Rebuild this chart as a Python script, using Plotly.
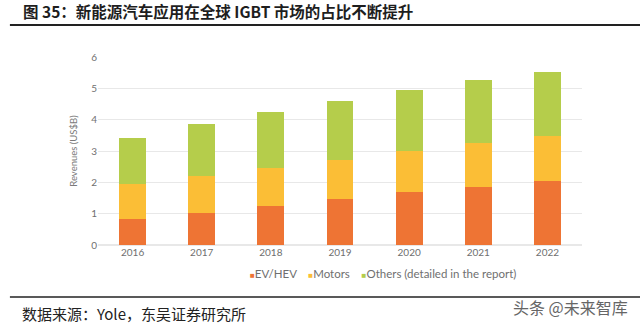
import plotly.graph_objects as go

years = ["2016", "2017", "2018", "2019", "2020", "2021", "2022"]
ev_hev = [0.84, 1.03, 1.26, 1.46, 1.68, 1.86, 2.05]
motors = [1.11, 1.17, 1.21, 1.26, 1.32, 1.41, 1.43]
others = [1.48, 1.66, 1.77, 1.88, 1.95, 2.00, 2.05]
y_ticks = [0, 1, 2, 3, 4, 5, 6]

series_names = ["EV/HEV", "Motors", "Others (detailed in the report)"]
series_values = [ev_hev, motors, others]
series_colors = ["#EE7434", "#FBBE36", "#B5CD4B"]

fig = go.Figure()
for name, vals, color in zip(series_names, series_values, series_colors):
    fig.add_trace(go.Bar(x=years, y=vals, name=name, showlegend=False,
                         marker=dict(color=color, line=dict(width=0))))

axis_font = dict(family="Lato, Open Sans, sans-serif", size=10, color="#6f6f6f")

fig.update_layout(
    barmode="stack",
    bargap=0.61,
    width=640,
    height=329,
    margin=dict(l=98, r=58, t=57, b=84),
    paper_bgcolor="white",
    plot_bgcolor="white",
    showlegend=False,
    xaxis=dict(
        tickfont=axis_font,
        showgrid=False,
        showline=False,
        ticks="",
    ),
    yaxis=dict(
        range=[0, 6],
        tickvals=y_ticks,
        tickfont=axis_font,
        showgrid=True,
        gridcolor="#e8e8e8",
        gridwidth=1,
        zeroline=True,
        zerolinecolor="#e8e8e8",
        ticks="",
        title=dict(text="Revenues (US$B)",
                   font=dict(family="Lato, Open Sans, sans-serif", size=9.5, color="#7a7a7a"),
                   standoff=11),
    ),
)

# legend drawn as text with small coloured squares
legend_parts = []
for name, color in zip(series_names, series_colors):
    legend_parts.append(
        f'<span style="font-size:8px;color:{color}">■</span>'
        f'<span style="color:#6f6f6f">{name}</span>'
    )
fig.add_annotation(
    text="&nbsp;&nbsp;&nbsp;&nbsp;".join(legend_parts),
    xref="paper", yref="paper", x=0, xanchor="left", y=0, yanchor="middle",
    xshift=150, yshift=-28,
    showarrow=False,
    font=dict(family="Lato, Open Sans, sans-serif", size=11.5, color="#6f6f6f"),
)

fig.add_annotation(
    text="<b>图 35：新能源汽车应用在全球 IGBT 市场的占比不断提升</b>",
    xref="paper", yref="paper", x=0, xanchor="left", y=1, yanchor="middle",
    xshift=-77, yshift=46,
    showarrow=False,
    font=dict(family="Noto Sans CJK SC", size=15.5, color="#1e1e1e"),
)
fig.add_annotation(
    text="数据来源：Yole，东吴证券研究所",
    xref="paper", yref="paper", x=0, xanchor="left", y=0, yanchor="middle",
    xshift=-78, yshift=-68,
    showarrow=False,
    font=dict(family="Noto Sans CJK SC", size=15, color="#222222"),
)
fig.add_annotation(
    text="头条 @未来智库",
    xref="paper", yref="paper", x=1, xanchor="right", y=0, yanchor="middle",
    xshift=48, yshift=-62,
    showarrow=False,
    font=dict(family="Noto Sans CJK SC", size=16, color="#666666"),
)
fig.add_shape(type="line", xref="paper", yref="paper",
              x0=-0.182, x1=1.12, y0=1.17, y1=1.17,
              line=dict(color="#222222", width=2))
fig.add_shape(type="line", xref="paper", yref="paper",
              x0=-0.182, x1=1.12, y0=-0.2766, y1=-0.2766,
              line=dict(color="#222222", width=1.5))
fig.write_html("out.html")
